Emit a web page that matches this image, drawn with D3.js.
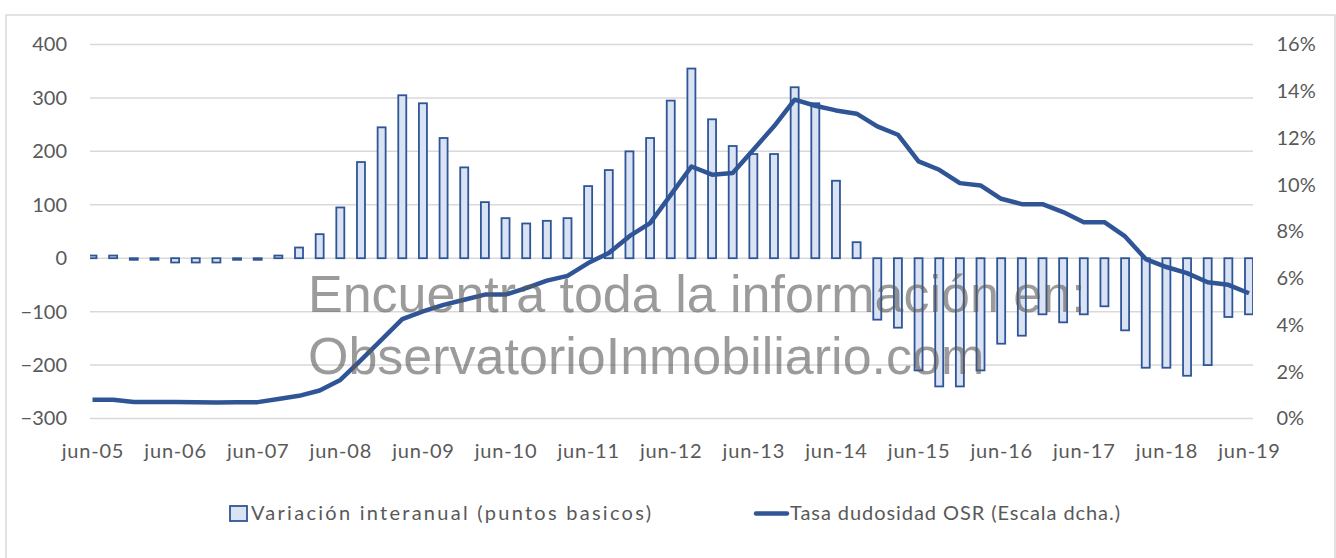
<!DOCTYPE html>
<html>
<head>
<meta charset="utf-8">
<script src="https://cdn.jsdelivr.net/npm/d3@7"></script>
<style>
  body { margin: 0; background: #fff; }
  text { font-family: Lato, "Liberation Sans", sans-serif; }
</style>
</head>
<body>
<script>
// quarters jun-05 .. jun-19
const categories = [
  "jun-05","sep-05","dic-05","mar-06","jun-06","sep-06","dic-06","mar-07",
  "jun-07","sep-07","dic-07","mar-08","jun-08","sep-08","dic-08","mar-09",
  "jun-09","sep-09","dic-09","mar-10","jun-10","sep-10","dic-10","mar-11",
  "jun-11","sep-11","dic-11","mar-12","jun-12","sep-12","dic-12","mar-13",
  "jun-13","sep-13","dic-13","mar-14","jun-14","sep-14","dic-14","mar-15",
  "jun-15","sep-15","dic-15","mar-16","jun-16","sep-16","dic-16","mar-17",
  "jun-17","sep-17","dic-17","mar-18","jun-18","sep-18","dic-18","mar-19",
  "jun-19"
];

// variacion interanual, puntos basicos
const variacion = [
  5, 5, -3, -3, -8, -8, -8, -3,
  -3, 5, 20, 45, 95, 180, 245, 305,
  290, 225, 170, 105, 75, 65, 70, 75,
  135, 165, 200, 225, 295, 355, 260, 210,
  195, 195, 320, 290, 145, 30, -115, -130,
  -210, -240, -240, -210, -160, -145, -105, -120,
  -105, -90, -135, -205, -205, -220, -200, -110,
  -105
];

// tasa de dudosidad OSR, %
const tasa = [
  0.80, 0.80, 0.71, 0.71, 0.71, 0.70, 0.68, 0.70,
  0.70, 0.83, 0.97, 1.20, 1.65, 2.50, 3.37, 4.25,
  4.58, 4.86, 5.08, 5.30, 5.30, 5.58, 5.90, 6.10,
  6.65, 7.08, 7.80, 8.36, 9.57, 10.78, 10.43, 10.50,
  11.50, 12.50, 13.64, 13.38, 13.18, 13.04, 12.50, 12.14,
  11.00, 10.64, 10.07, 9.97, 9.40, 9.17, 9.17, 8.83,
  8.40, 8.40, 7.79, 6.82, 6.48, 6.22, 5.83, 5.72,
  5.36
];

const xTickLabels = ["jun-05","jun-06","jun-07","jun-08","jun-09","jun-10","jun-11",
  "jun-12","jun-13","jun-14","jun-15","jun-16","jun-17","jun-18","jun-19"];
const leftTicks = [400, 300, 200, 100, 0, -100, -200, -300];
const rightTicks = [0, 2, 4, 6, 8, 10, 12, 14, 16];

const seriesNames = ["Variación interanual (puntos basicos)", "Tasa dudosidad OSR (Escala dcha.)"];
const watermark = ["Encuentra toda la información en:", "ObservatorioInmobiliario.com"];

const W = 1336, H = 558;
const plotLeft = 90, plotRight = 1253, plotTop = 44.5, plotBottom = 418.5;
const blue = "#2f5597", fillBlue = "#dae3f3", grid = "#d9d9d9", txt = "#595959";

const svg = d3.select("body").append("svg")
  .attr("width", W).attr("height", H);

// outer border
svg.append("rect")
  .attr("x", 6).attr("y", 15).attr("width", 1329).attr("height", 560)
  .attr("fill", "#fff").attr("stroke", grid).attr("stroke-width", 1.5);

const x = d3.scalePoint().domain(categories).range([92.5, 1249]);
const yL = d3.scaleLinear().domain([-300, 400]).range([plotBottom, plotTop]);
const yR = d3.scaleLinear().domain([0, 16]).range([plotBottom, plotTop]);

// gridlines
svg.append("g").selectAll("line")
  .data(leftTicks).enter().append("line")
  .attr("x1", plotLeft).attr("x2", plotRight)
  .attr("y1", d => yL(d)).attr("y2", d => yL(d))
  .attr("stroke", grid).attr("stroke-width", 1.5);

// left axis
const axL = svg.append("g").attr("transform", "translate(67,0)")
  .call(d3.axisLeft(yL).tickValues(leftTicks).tickSize(0).tickPadding(0));
axL.select(".domain").remove();
axL.selectAll("text").attr("fill", txt).style("font-size", "20px");

// right axis
const axR = svg.append("g").attr("transform", "translate(1276.5,0)")
  .call(d3.axisRight(yR).tickValues(rightTicks).tickSize(0).tickPadding(0)
    .tickFormat(d => d + "%"));
axR.select(".domain").remove();
axR.selectAll("text").attr("fill", txt).style("font-size", "20px");

// bottom axis
const axB = svg.append("g").attr("transform", "translate(0," + plotBottom + ")")
  .call(d3.axisBottom(x).tickValues(xTickLabels).tickSize(0).tickPadding(25.5));
axB.select(".domain").remove();
axB.selectAll("text").attr("fill", txt).style("font-size", "20px")
  .style("letter-spacing", "0.8px");

// bars
svg.append("clipPath").attr("id", "plotClip")
  .append("rect").attr("x", plotLeft).attr("y", 0)
  .attr("width", plotRight - plotLeft).attr("height", H);

const barW = 8;
svg.append("g").attr("clip-path", "url(#plotClip)")
  .selectAll("rect")
  .data(variacion).enter().append("rect")
  .attr("x", (d, i) => x(categories[i]) - barW / 2)
  .attr("y", d => yL(Math.max(0, d)))
  .attr("width", barW)
  .attr("height", d => Math.abs(yL(d) - yL(0)))
  .attr("fill", fillBlue).attr("stroke", blue).attr("stroke-width", 1.8);

// line
const line = d3.line()
  .x((d, i) => x(categories[i]))
  .y(d => yR(d));
svg.append("path")
  .datum(tasa)
  .attr("d", line)
  .attr("fill", "none").attr("stroke", blue)
  .attr("stroke-width", 4.5).attr("stroke-linejoin", "round");

// watermark
svg.append("g").selectAll("text")
  .data(watermark).enter().append("text")
  .attr("x", 308).attr("y", (d, i) => 311.5 + i * 62)
  .style("font-family", "'Liberation Sans', Arial, sans-serif")
  .style("font-size", "52px")
  .attr("fill", "#595959").attr("fill-opacity", 0.6)
  .text(d => d);

// legend
const leg = svg.append("g");
leg.append("rect")
  .attr("x", 230).attr("y", 506).attr("width", 17).attr("height", 15)
  .attr("fill", fillBlue).attr("stroke", blue).attr("stroke-width", 1.8);
leg.append("text")
  .attr("x", 251).attr("y", 520)
  .attr("fill", txt).style("font-size", "20px")
  .attr("textLength", 400).attr("lengthAdjust", "spacing")
  .text(seriesNames[0]);
leg.append("line")
  .attr("x1", 756).attr("x2", 787).attr("y1", 513.5).attr("y2", 513.5)
  .attr("stroke", blue).attr("stroke-width", 4.5).attr("stroke-linecap", "round");
leg.append("text")
  .attr("x", 790).attr("y", 520)
  .attr("fill", txt).style("font-size", "20px")
  .attr("textLength", 330).attr("lengthAdjust", "spacing")
  .text(seriesNames[1]);
</script>
</body>
</html>
